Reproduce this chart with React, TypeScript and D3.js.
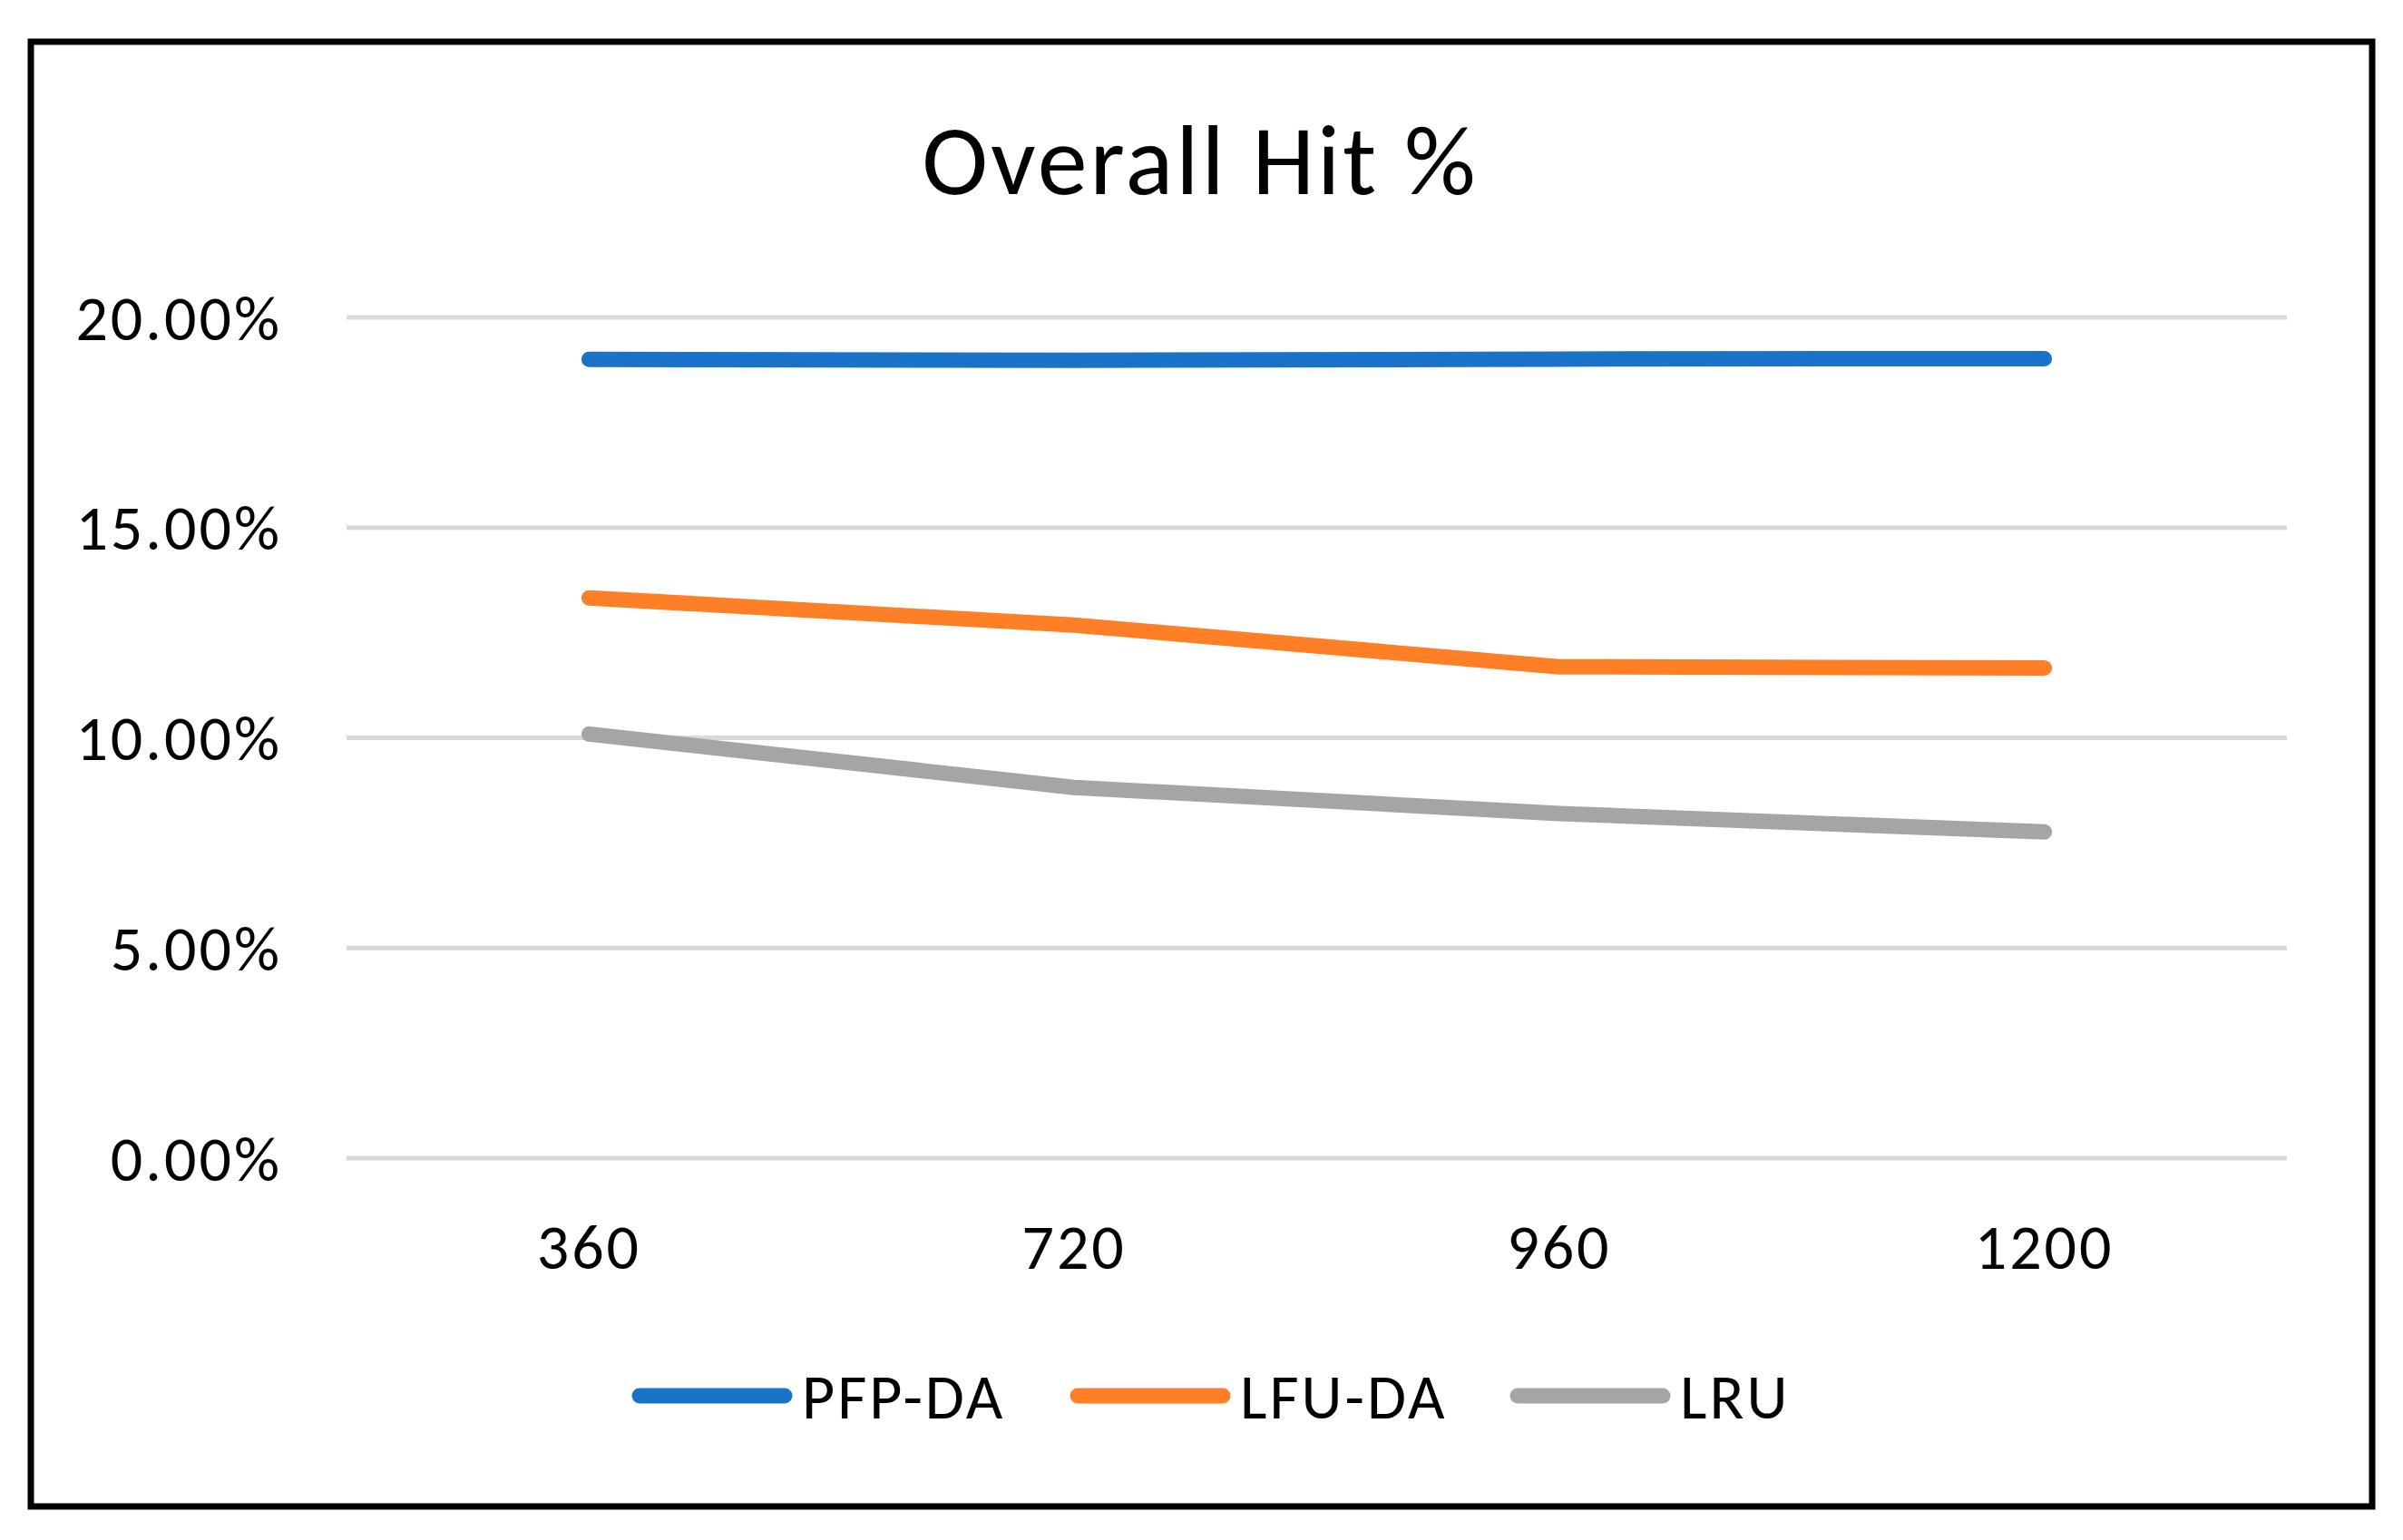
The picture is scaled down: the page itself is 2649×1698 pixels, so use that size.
import { useEffect, useRef } from "react";
import * as d3 from "d3";

const categories = ["360", "720", "960", "1200"];
const seriesNames = ["PFP-DA", "LFU-DA", "LRU"];
const pfpDa = [19.0, 18.98, 19.01, 19.02];
const lfuDa = [13.33, 12.68, 11.69, 11.66];
const lru = [10.09, 8.82, 8.2, 7.76];
const yTicks = [0, 5, 10, 15, 20];
const colors = ["#1a73c8", "#ff7f27", "#a5a5a5"];

export default function App() {
  const ref = useRef<SVGSVGElement>(null);

  useEffect(() => {
    document.body.style.margin = "0";
    const width = 2649;
    const height = 1698;
    const font = "Carlito, Lato, 'Open Sans', sans-serif";

    const svg = d3.select(ref.current);
    svg.selectAll("*").remove();

    svg
      .append("rect")
      .attr("width", width)
      .attr("height", height)
      .attr("fill", "#fff");

    svg
      .append("rect")
      .attr("x", 34)
      .attr("y", 46)
      .attr("width", 2581)
      .attr("height", 1615)
      .attr("fill", "none")
      .attr("stroke", "#000")
      .attr("stroke-width", 7);

    svg
      .append("text")
      .attr("x", 1323)
      .attr("y", 214)
      .attr("text-anchor", "middle")
      .attr("font-family", font)
      .attr("font-size", 110)
      .attr("letter-spacing", 3)
      .attr("fill", "#000")
      .text("Overall Hit %");

    const x = d3.scaleBand().domain(categories).range([382, 2521]);
    const y = d3.scaleLinear().domain([0, 20]).range([1277, 350]);

    // gridlines
    svg
      .append("g")
      .selectAll("line")
      .data(yTicks)
      .enter()
      .append("line")
      .attr("x1", 382)
      .attr("x2", 2521)
      .attr("y1", (d) => y(d))
      .attr("y2", (d) => y(d))
      .attr("stroke", "#d9d9d9")
      .attr("stroke-width", 5);

    svg
      .append("g")
      .selectAll("text")
      .data(yTicks)
      .enter()
      .append("text")
      .attr("x", 311)
      .attr("y", (d) => y(d))
      .attr("dy", "0.35em")
      .attr("text-anchor", "end")
      .attr("font-family", font)
      .attr("font-size", 70)
      .attr("letter-spacing", 3)
      .attr("fill", "#000")
      .text((d) => d.toFixed(2) + "%");

    svg
      .append("g")
      .selectAll("text")
      .data(categories)
      .enter()
      .append("text")
      .attr("x", (d) => x(d)! + x.bandwidth() / 2)
      .attr("y", 1399)
      .attr("text-anchor", "middle")
      .attr("font-family", font)
      .attr("font-size", 70)
      .attr("letter-spacing", 3)
      .attr("fill", "#000")
      .text((d) => d);

    const series = [pfpDa, lfuDa, lru];
    const line = d3
      .line<number>()
      .x((_, i) => x(categories[i])! + x.bandwidth() / 2)
      .y((d) => y(d));

    series.forEach((s, i) => {
      svg
        .append("path")
        .attr("d", line(s))
        .attr("fill", "none")
        .attr("stroke", colors[i])
        .attr("stroke-width", 17)
        .attr("stroke-linecap", "round")
        .attr("stroke-linejoin", "round");
    });

    // legend
    const legendX = [705, 1188, 1673];
    const legendY = 1539;
    const legend = svg
      .append("g")
      .selectAll("g")
      .data(seriesNames)
      .enter()
      .append("g");
    legend
      .append("line")
      .attr("x1", (_, i) => legendX[i])
      .attr("x2", (_, i) => legendX[i] + 160)
      .attr("y1", legendY)
      .attr("y2", legendY)
      .attr("stroke", (_, i) => colors[i])
      .attr("stroke-width", 17)
      .attr("stroke-linecap", "round");
    legend
      .append("text")
      .attr("x", (_, i) => legendX[i] + 179)
      .attr("y", legendY)
      .attr("dy", "0.35em")
      .attr("font-family", font)
      .attr("font-size", 70)
      .attr("letter-spacing", 3)
      .attr("fill", "#000")
      .text((d) => d);
  }, []);

  return <svg ref={ref} width={2649} height={1698} style={{ display: "block" }} />;
}
